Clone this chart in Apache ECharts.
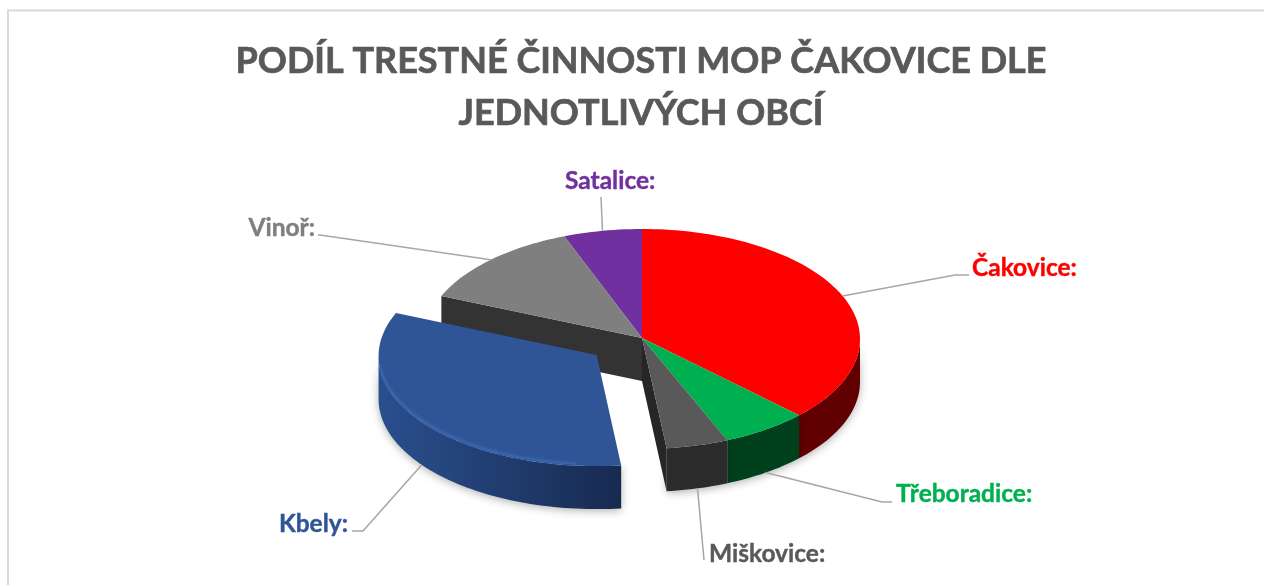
<!DOCTYPE html>
<html>
<head>
<meta charset="utf-8">
<style>
  html, body { margin: 0; padding: 0; background: #fff; }
  #chart { width: 1264px; height: 585px; }
</style>
<script src="https://cdn.jsdelivr.net/npm/echarts@6/dist/echarts.min.js"></script>
</head>
<body>
<div id="chart"></div>
<script>
// data (share of the pie, %)
const categories = ['Čakovice', 'Třeboradice', 'Miškovice', 'Kbely', 'Vinoř', 'Satalice'];
const shares = [37.2, 6.4, 4.6, 33.2, 12.8, 5.8];
const titleText = 'PODÍL TRESTNÉ ČINNOSTI MOP ČAKOVICE DLE\nJEDNOTLIVÝCH OBCÍ';

// back to front
const drawOrder = [5, 4, 0, 1, 2, 3];

const topColors = ['#ff0000', '#00b050', '#595959', '#2f5597', '#7f7f7f', '#7030a0'];
const wallColors = ['#600000', '#00401c', '#2b2b2b', null, '#333333', '#3c1a58'];
const labelColors = ['#ff0000', '#00b050', '#595959', '#2f5597', '#7f7f7f', '#7030a0'];

// pie geometry on the page
const cx = 642, cy = 339, apexY = 338, rx = 218, ry = 110, depth = 43;
const explodedIndex = 3, explode = 0.26;

// label text anchor and the leader line elbow(s)
const labelLayout = [
  { x: 972, y: 268, align: 'left', elbow: [[955, 275], [969, 275]] },
  { x: 896, y: 494, align: 'left', elbow: [[882, 502], [892, 502]] },
  { x: 709, y: 554, align: 'left', elbow: [[704, 560]] },
  { x: 348, y: 524, align: 'right', elbow: [[363, 531], [352, 531]] },
  { x: 315, y: 228, align: 'right', elbow: [[320, 235], [318, 235]] },
  { x: 565, y: 181, align: 'left', elbow: [[601, 197]] }
];

const total = shares.reduce((a, b) => a + b, 0);
const startAngles = [];
let acc = 0;
shares.forEach((v) => {
  startAngles.push(acc / total * 360);
  acc += v;
});

function ellipsePoint(deg, ox, oy) {
  const r = deg * Math.PI / 180;
  return [cx + ox + rx * Math.sin(r), cy + oy - ry * Math.cos(r)];
}

function arcPoints(from, to, ox, oy) {
  const pts = [];
  const steps = Math.max(2, Math.ceil((to - from) / 1.5));
  for (let s = 0; s <= steps; s++) {
    pts.push(ellipsePoint(from + (to - from) * s / steps, ox, oy));
  }
  return pts;
}

function renderSlice(params, api) {
  const i = api.value(1);
  const start = startAngles[i];
  const end = start + api.value(0) / total * 360;
  const mid = (start + end) / 2;
  let ox = 0, oy = 0;
  if (i === explodedIndex) {
    const m = mid * Math.PI / 180;
    ox = rx * Math.sin(m) * explode;
    oy = -ry * Math.cos(m) * explode;
  }
  const apex = [cx + ox, apexY + oy];
  const children = [];

  // outer wall, only the part facing the viewer
  const wallFrom = Math.max(start, 90), wallTo = Math.min(end, 270);
  if (wallTo > wallFrom) {
    const upper = arcPoints(wallFrom, wallTo, ox, oy);
    const lower = upper.map((p) => [p[0], p[1] + depth]).reverse();
    let fill = wallColors[i];
    if (i === explodedIndex) {
      fill = new echarts.graphic.LinearGradient(0, 0, 1, 0, [
        { offset: 0, color: '#2a4f8e' },
        { offset: 0.45, color: '#223f73' },
        { offset: 1, color: '#172a50' }
      ]);
    }
    children.push({
      type: 'polygon',
      shape: { points: upper.concat(lower) },
      style: { fill: fill, shadowBlur: 8, shadowColor: 'rgba(0,0,0,0.3)', shadowOffsetY: 2 }
    });
  }

  // cut faces seen through the gap left by Kbely
  if (i === 2 || i === 4) {
    const edge = ellipsePoint(i === 2 ? end : start, ox, oy);
    children.push({
      type: 'polygon',
      shape: { points: [apex, edge, [edge[0], edge[1] + depth], [apex[0], apex[1] + depth]] },
      style: { fill: i === 2 ? '#262626' : wallColors[i] }
    });
  }

  // top face
  children.push({
    type: 'polygon',
    shape: { points: [apex].concat(arcPoints(start, end, ox, oy)) },
    style: { fill: topColors[i] }
  });

  // soft light bevel on the exploded slice
  if (i === explodedIndex) {
    children.push({
      type: 'polyline',
      shape: { points: arcPoints(start + 12, end - 30, ox, oy - 2) },
      style: { fill: null, stroke: '#3a66ad', lineWidth: 2, opacity: 0.7, shadowBlur: 3, shadowColor: '#3f6db8' }
    });
  }

  // leader line and label
  const layout = labelLayout[i];
  const anchor = ellipsePoint(mid, ox, oy);
  if (mid > 90 && mid < 270) anchor[1] += depth;
  children.push({
    type: 'polyline',
    shape: { points: [anchor].concat(layout.elbow) },
    style: { fill: null, stroke: '#a6a6a6', lineWidth: 1.5 }
  });
  children.push({
    type: 'text',
    x: layout.x,
    y: layout.y,
    style: {
      text: api.value(2) + ':',
      fill: labelColors[i],
      stroke: labelColors[i],
      lineWidth: 0.4,
      font: '700 24.5px Lato',
      textAlign: layout.align,
      textVerticalAlign: 'middle'
    }
  });

  return { type: 'group', children: children };
}

const chart = echarts.init(document.getElementById('chart'), null, { renderer: 'canvas' });
chart.setOption({
  animation: false,
  backgroundColor: '#ffffff',
  title: {
    text: titleText,
    left: 636,
    top: 30,
    textAlign: 'center',
    textStyle: {
      fontFamily: 'Lato',
      fontWeight: 700,
      fontSize: 36,
      lineHeight: 52,
      color: '#595959',
      textBorderColor: '#595959',
      textBorderWidth: 0.7
    }
  },
  graphic: [{
    type: 'rect',
    silent: true,
    shape: { x: 8, y: 10.5, width: 2000, height: 2000 },
    style: { fill: null, stroke: '#d9d9d9', lineWidth: 2 }
  }],
  series: [{
    type: 'custom',
    coordinateSystem: 'none',
    silent: true,
    renderItem: renderSlice,
    encode: { value: 0 },
    data: drawOrder.map((i) => [shares[i], i, categories[i]])
  }]
});
</script>
</body>
</html>
